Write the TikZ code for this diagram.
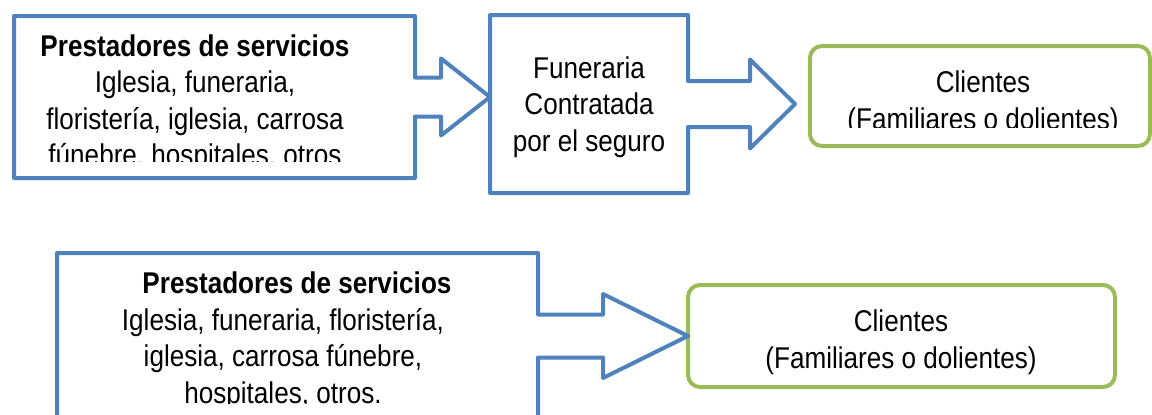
\documentclass[tikz,border=0pt]{standalone}
\usepackage{fontspec}
\setmainfont{Liberation Sans}[FakeStretch=0.87]
\usetikzlibrary{calc}

\definecolor{bordeprov}{HTML}{4F81BD}
\definecolor{bordecli}{HTML}{9BBB59}

\begin{document}
\begin{tikzpicture}[
    x=1pt, y=-1pt,
    font=\fontsize{30}{36.5}\selectfont
]

\tikzset{
    caja/.style={
        rectangle,
        inner sep=0pt,
        outer sep=0pt
    },
    flecha/.style={
        draw=bordeprov,
        line width=4pt,
        line join=round
    },
    cliente/.style={
        rectangle,
        rounded corners=12pt,
        draw=bordecli,
        line width=4pt,
        inner sep=0pt,
        outer sep=0pt
    },
    texto/.style={
        align=center,
        inner sep=0pt,
        text=black
    }
}

\useasboundingbox (0,0) rectangle (1152,415);

% Cajas
\node[caja, minimum width=401pt, minimum height=162pt] (prov) at (214.5,97) {};
\node[caja, minimum width=198pt, minimum height=178pt] (fun) at (589,104) {};
\node[cliente, minimum width=340pt, minimum height=100pt] (cli) at (980,96) {};
\node[caja, minimum width=481pt, minimum height=187pt] (prov2) at (297.5,346.5) {};
\node[cliente, minimum width=427pt, minimum height=102pt] (cli2) at (901.5,336) {};

% Flechas
\coordinate (puntaA) at (fun.west |- prov.east);
\draw[flecha] ($(prov.east)+(0,19.5)$) -- (prov.south east) -- (prov.south west) -- (prov.north west) -- (prov.north east)
    -- ($(prov.east)+(0,-19.5)$) -- ++(26,0) -- ++(0,-19) -- (puntaA) -- ($(prov.east)+(26,38.5)$) -- ++(0,-19) -- cycle;

\coordinate (puntaB) at ($(cli.west |- fun.east)+(-15,0)$);
\draw[flecha] ($(fun.east)+(0,23)$) -- (fun.south east) -- (fun.south west) -- (fun.north west) -- (fun.north east)
    -- ($(fun.east)+(0,-23)$) -- ++(62,0) -- ++(0,-21.5) -- (puntaB) -- ($(fun.east)+(62,44.5)$) -- ++(0,-21.5) -- cycle;

\coordinate (baseC) at (prov2.east |- cli2.west);
\draw[flecha] ($(baseC)+(0,21.5)$) -- (prov2.south east) -- (prov2.south west) -- (prov2.north west) -- (prov2.north east)
    -- ($(baseC)+(0,-21.5)$) -- ++(65,0) -- ++(0,-20.5) -- (cli2.west) -- ($(baseC)+(65,42)$) -- ++(0,-20.5) -- cycle;

% Textos
\begin{scope}
    \clip (20,20) rectangle (410,161);
    \node[texto] (provtxt) at (195,103) {\textbf{Prestadores de servicios}\\Iglesia, funeraria,\\floristería, iglesia, carrosa\\fúnebre, hospitales, otros};
\end{scope}
\node[texto] (funtxt) at (589,107) {Funeraria\\Contratada\\por el seguro};
\begin{scope}
    \clip (815,50) rectangle (1145,127);
    \node[texto] (clitxt) at (983,103) {Clientes\\(Familiares o dolientes)};
\end{scope}
\begin{scope}
    \clip (62,258) rectangle (533,403);
    \node[texto] (prov2txt) at (283,340.5) {\hspace*{28pt}\textbf{Prestadores de servicios}\\Iglesia, funeraria, floristería,\\iglesia, carrosa fúnebre,\\hospitales, otros.};
\end{scope}
\node[texto] (cli2txt) at (901,342) {Clientes\\(Familiares o dolientes)};

\end{tikzpicture}
\end{document}
